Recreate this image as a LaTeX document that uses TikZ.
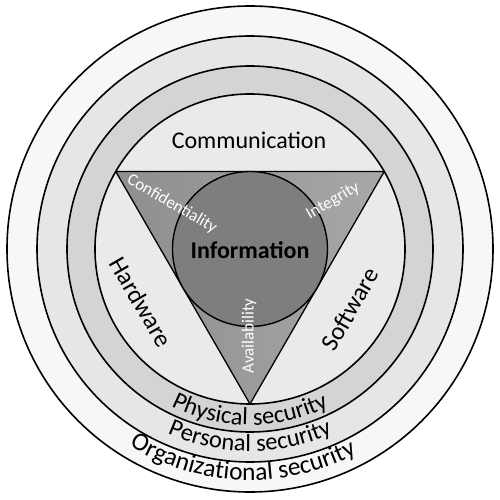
\documentclass[tikz,border=0pt]{standalone}
\usepackage{fontspec}
\setmainfont{Carlito}
\usetikzlibrary{decorations.text}
\definecolor{ringA}{HTML}{F7F7F7}
\definecolor{ringB}{HTML}{E6E6E6}
\definecolor{ringC}{HTML}{D4D4D4}
\definecolor{diskD}{HTML}{EAEAEA}
\definecolor{triL}{HTML}{8E8E8E}
\definecolor{triR}{HTML}{A8A8A8}
\definecolor{infoC}{HTML}{7E7E7E}
\tikzset{
  ringline/.style={line width=1.6pt, draw=black},
  trilabel/.style={text=white, font=\fontsize{17}{17}\selectfont},
  sidelabel/.style={text=black, font=\fontsize{25}{25}\selectfont},
  mainlabel/.style={text=black, font=\fontsize{24}{24}\selectfont, anchor=base}
}
\begin{document}
\begin{tikzpicture}[x=1pt,y=1pt]
\useasboundingbox (-250,-251) rectangle (250,249);
\fill[white] (-250,-251) rectangle (250,249);
\coordinate (O) at (0,0);
% ring fills
\fill[ringA] (O) circle[radius=243];
\fill[ringB] (O) circle[radius=213];
\fill[ringC] (O) circle[radius=183];
\fill[diskD] (O) circle[radius=155];
% triangle
\coordinate (TL) at (150:155);
\coordinate (TR) at (30:155);
\coordinate (TB) at (270:155);
\shade[left color=triL, right color=triR] (TL) -- (TR) -- (TB) -- cycle;
\draw[line width=1.3pt, line join=round] (TL) -- (TR) -- (TB) -- cycle;
% inner circle
\fill[infoC] (O) circle[radius=77.5];
\draw[line width=1.4pt] (O) circle[radius=77.5];
% ring outlines
\foreach \r in {243,213,183,155} {\draw[ringline] (O) circle[radius=\r];}
% labels
\node[mainlabel] (comm) at (-1,100) {Communication};
\node[mainlabel, font=\fontsize{24}{24}\selectfont\bfseries] (info) at (0,-10) {Information};
\node[sidelabel, rotate=-60] (hw) at (-109,-53) {Hardware};
\node[sidelabel, rotate=60] (sw) at (100,-60) {Software};
\node[trilabel, rotate=-30] (conf) at (-78,45) {Confidentiality};
\node[trilabel, rotate=30] (integ) at (83,48) {Integrity};
\node[trilabel, rotate=90] (avail) at (-1,-87) {Availability};
% curved labels
\path[decorate, decoration={text along path, text align=center,
  text={|\fontsize{24.5}{24.5}\selectfont|Physical security}}]
  (O) ++(200:176) arc[start angle=200, end angle=340, radius=176];
\path[decorate, decoration={text along path, text align=center,
  text={|\fontsize{24.5}{24.5}\selectfont|Personal security}}]
  (O) ++(200:202) arc[start angle=200, end angle=340, radius=202];
\path[decorate, decoration={text along path, text align=center,
  text={|\fontsize{25.5}{25.5}\selectfont|Organizational security}}]
  (O) ++(198:231) arc[start angle=198, end angle=338, radius=231];
\end{tikzpicture}
\end{document}
